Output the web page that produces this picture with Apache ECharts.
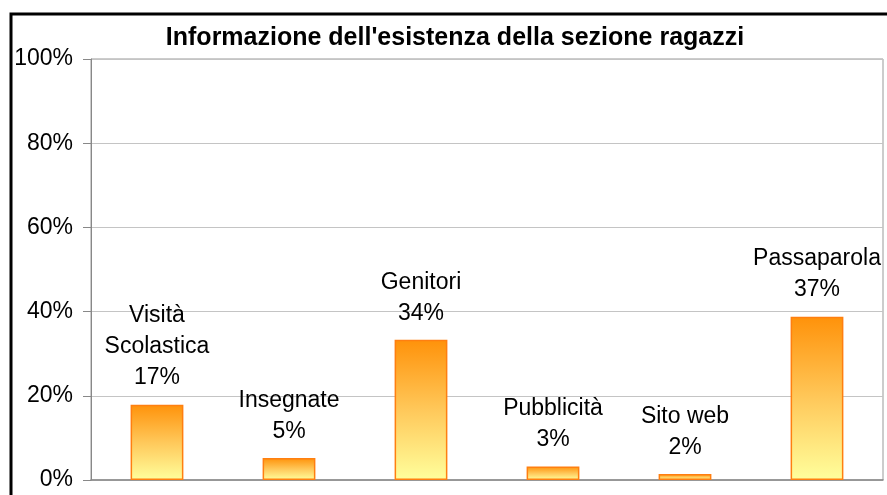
<!DOCTYPE html>
<html>
<head>
<meta charset="utf-8">
<script src="https://cdn.jsdelivr.net/npm/echarts@6/dist/echarts.min.js"></script>
<style>
  html, body { margin: 0; padding: 0; background: #fff; }
  #chart { width: 887px; height: 495px; }
</style>
</head>
<body>
<div id="chart"></div>
<script>
// dati
const categories = ['Visità\nScolastica', 'Insegnate', 'Genitori', 'Pubblicità', 'Sito web', 'Passaparola']
const barValues = [17.9, 5.2, 33.3, 3.2, 1.4, 38.8]   // altezza delle barre (%)
const labelPct = ['17%', '5%', '34%', '3%', '2%', '37%']  // testo mostrato sopra le barre
const yTicks = [0, 20, 40, 60, 80, 100]

const FONT = '"Liberation Sans", Arial, sans-serif'

const chart = echarts.init(document.getElementById('chart'), null, { renderer: 'canvas' })

chart.setOption({
  animation: false,
  textStyle: { fontFamily: FONT },
  title: {
    text: "Informazione dell'esistenza della sezione ragazzi",
    left: 450,
    textAlign: 'center',
    top: 21,
    textStyle: { fontFamily: FONT, fontSize: 25, fontWeight: 'bold', color: '#000' }
  },
  // cornice esterna (tagliata a destra e in basso)
  graphic: [{
    type: 'rect',
    shape: { x: 11, y: 14, width: 1000, height: 600 },
    style: { fill: 'none', stroke: '#000', lineWidth: 3 },
    silent: true
  }],
  grid: {
    left: 91, top: 59, right: 4, bottom: 15,
    show: true, borderColor: '#999', borderWidth: 1, backgroundColor: '#fff'
  },
  xAxis: {
    type: 'category',
    data: categories,
    axisLine: { lineStyle: { color: '#888', width: 1.5 } },
    axisTick: { show: false },
    axisLabel: { show: false }
  },
  yAxis: {
    type: 'value',
    min: yTicks[0],
    max: yTicks[yTicks.length - 1],
    interval: 20,
    axisLine: { show: true, lineStyle: { color: '#888' } },
    axisTick: { show: true, length: 8, lineStyle: { color: '#888' } },
    splitLine: { lineStyle: { color: '#c4c4c4' } },
    axisLabel: {
      color: '#000', fontFamily: FONT, fontSize: 23, margin: 18,
      formatter: (v) => v + '%'
    }
  },
  series: [{
    type: 'bar',
    data: barValues,
    barCategoryGap: '60%',
    itemStyle: {
      color: new echarts.graphic.LinearGradient(0, 0, 0, 1, [
        { offset: 0, color: '#ff920a' },
        { offset: 0.5, color: '#ffc85a' },
        { offset: 1, color: '#ffff9c' }
      ]),
      borderColor: '#ff7f10',
      borderWidth: 1.5
    },
    label: {
      show: true,
      position: 'top',
      distance: 11,
      color: '#000',
      fontFamily: FONT,
      fontSize: 23,
      lineHeight: 31,
      align: 'center',
      formatter: (p) => categories[p.dataIndex] + '\n' + labelPct[p.dataIndex]
    }
  }]
})
</script>
</body>
</html>
